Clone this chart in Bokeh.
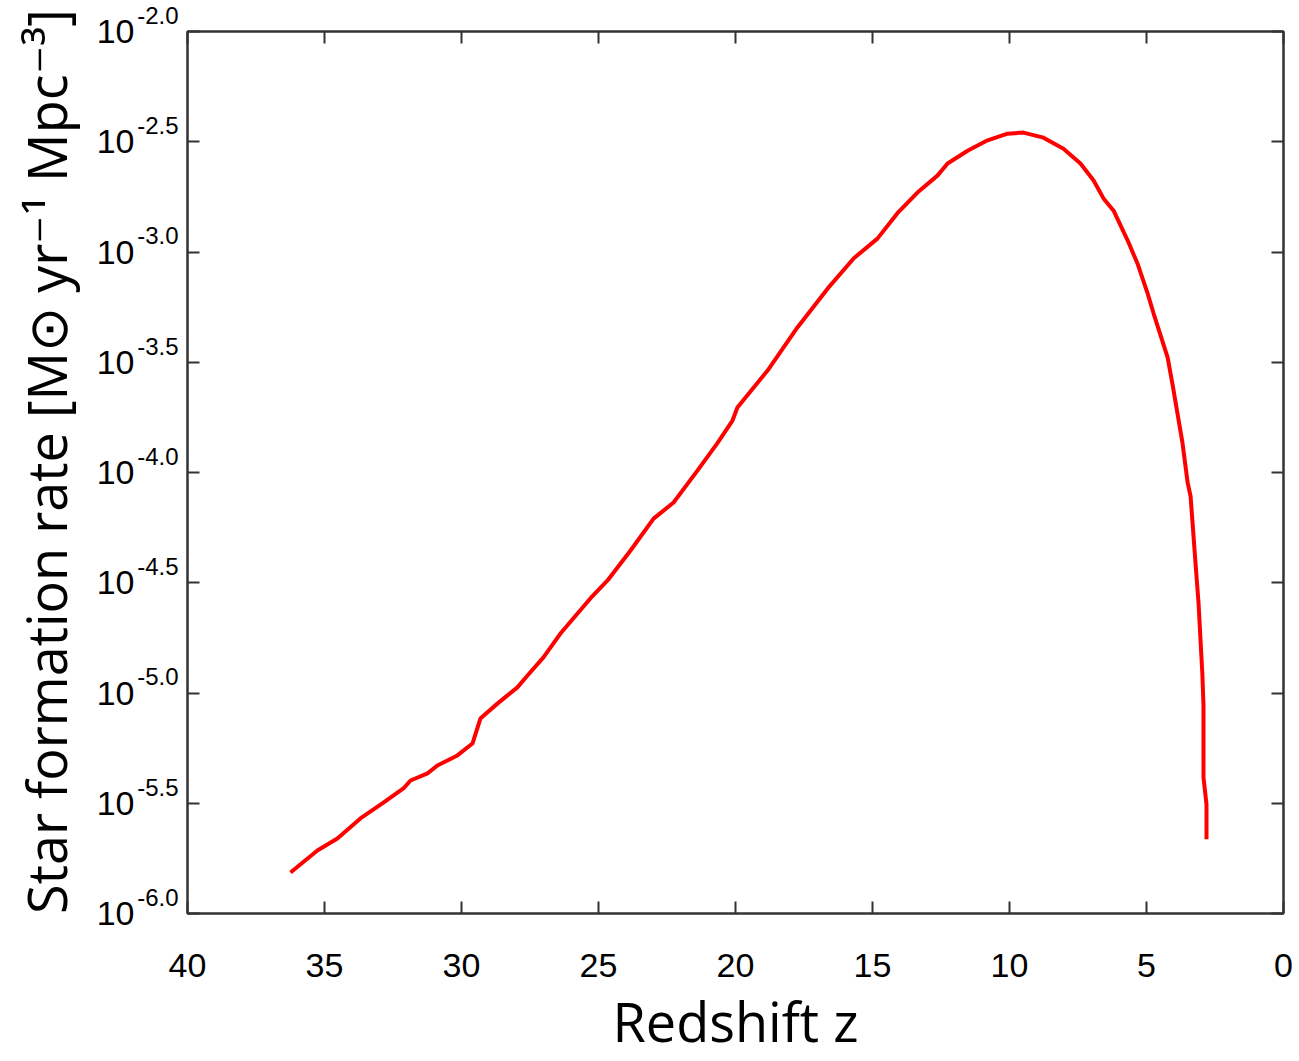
from bokeh.plotting import figure
from bokeh.models import (FixedTicker, LogAxis, LinearAxis, CustomJSTickFormatter, Range1d)
from bokeh.embed import file_html
from bokeh.resources import INLINE

# ---- data ----
redshift = [36.24, 35.26, 34.53, 33.69, 32.85, 32.12, 31.86, 31.24, 30.88, 30.15,
            29.60, 29.31, 28.69, 27.96, 27.59, 27.01, 26.39, 25.29, 24.67, 23.83,
            22.99, 22.26, 21.39, 20.66, 20.11, 19.93, 18.83, 17.74, 16.64, 15.69,
            14.82, 14.09, 13.36, 12.63, 12.26, 11.53, 10.80, 10.07, 9.49, 8.76,
            8.03, 7.41, 6.93, 6.57, 6.20, 5.69, 5.33, 4.96, 4.74, 4.23,
            4.05, 3.69, 3.50, 3.39, 3.21, 3.10, 2.96, 2.92, 2.92, 2.81, 2.81]
sfr = [1.535e-6, 1.93e-6, 2.19e-6, 2.70e-6, 3.18e-6, 3.69e-6, 4.01e-6, 4.32e-6, 4.69e-6, 5.21e-6,
       5.90e-6, 7.66e-6, 8.95e-6, 1.06e-5, 1.20e-5, 1.45e-5, 1.86e-5, 2.69e-5, 3.24e-5, 4.43e-5,
       6.18e-5, 7.31e-5, 1.02e-4, 1.36e-4, 1.72e-4, 1.97e-4, 2.90e-4, 4.55e-4, 6.82e-4, 9.35e-4,
       1.15e-3, 1.50e-3, 1.86e-3, 2.22e-3, 2.52e-3, 2.88e-3, 3.21e-3, 3.44e-3, 3.48e-3, 3.30e-3,
       2.94e-3, 2.52e-3, 2.11e-3, 1.75e-3, 1.54e-3, 1.13e-3, 8.87e-4, 6.49e-4, 5.26e-4, 3.33e-4,
       2.51e-4, 1.37e-4, 9.02e-5, 7.78e-5, 3.86e-5, 2.55e-5, 1.21e-5, 8.77e-6, 4.14e-6, 3.12e-6, 2.17e-6]

x_ticks = [0, 5, 10, 15, 20, 25, 30, 35, 40]
y_tick_exponents = [-6.0, -5.5, -5.0, -4.5, -4.0, -3.5, -3.0, -2.5, -2.0]
y_tick_labels = ["-6.0", "-5.5", "-5.0", "-4.5", "-4.0", "-3.5", "-3.0", "-2.5", "-2.0"]
y_tick_base = "10"
x_title = "Redshift z"
y_title = "Star formation rate [M\u2299 yr\u207b\u00b9 Mpc\u207b\u00b3]"

AX = "#333333"
TICK_FONT = "Liberation Sans"
TITLE_FONT = "Open Sans"

y_tick_values = [10 ** e for e in y_tick_exponents]

p = figure(width=1298, height=1060,
           x_range=Range1d(40, 0), y_range=Range1d(1e-6, 1e-2),
           y_axis_type="log", output_backend="svg", toolbar_location=None,
           min_border_left=187, min_border_right=15, min_border_top=31,
           min_border_bottom=147)
p.background_fill_color = "white"
p.border_fill_color = "white"
p.outline_line_color = AX
p.outline_line_width = 2
p.xgrid.visible = False
p.ygrid.visible = False

p.line(redshift, sfr, line_color="#ff0000", line_width=4)


def style_axis(ax):
    ax.axis_line_color = AX
    ax.axis_line_width = 2
    ax.major_tick_line_color = AX
    ax.major_tick_line_width = 2
    ax.major_tick_in = 12
    ax.major_tick_out = 0
    ax.minor_tick_in = 0
    ax.minor_tick_out = 0
    ax.minor_tick_line_color = None


xticker = FixedTicker(ticks=x_ticks, minor_ticks=[])
yticker = FixedTicker(ticks=y_tick_values, minor_ticks=[])

xa = p.xaxis[0]
style_axis(xa)
xa.ticker = xticker
xa.major_label_text_font = TICK_FONT
xa.major_label_text_font_size = "34px"
xa.major_label_text_color = "black"
xa.major_label_standoff = 40
xa.axis_label = x_title
xa.axis_label_text_font = TITLE_FONT
xa.axis_label_text_font_size = "54px"
xa.axis_label_text_font_style = "normal"
xa.axis_label_text_color = "black"
xa.axis_label_standoff = 4

# inner left axis: carries the ticks and the exponent (superscript) part
exp_formatter = CustomJSTickFormatter(
    args=dict(exps=y_tick_exponents, labels=y_tick_labels),
    code="""
const e = Math.log10(tick);
let best = 0;
for (let i = 0; i < exps.length; i++) {
  if (Math.abs(exps[i] - e) < Math.abs(exps[best] - e)) best = i;
}
return labels[best] + "\\n\\u00a0";
""")
ya = p.yaxis[0]
style_axis(ya)
ya.ticker = yticker
ya.formatter = exp_formatter
ya.major_label_text_font = TICK_FONT
ya.major_label_text_font_size = "24px"
ya.major_label_text_color = "black"
ya.major_label_standoff = 9

# outer left axis: the base "10" and the axis title
base_axis = LogAxis(ticker=yticker,
                    formatter=CustomJSTickFormatter(args=dict(base=y_tick_base),
                                                    code="return base"))
base_axis.axis_line_color = None
base_axis.major_tick_line_color = None
base_axis.minor_tick_line_color = None
base_axis.major_tick_in = 0
base_axis.major_tick_out = 0
base_axis.minor_tick_in = 0
base_axis.minor_tick_out = 0
base_axis.major_label_text_font = TICK_FONT
base_axis.major_label_text_font_size = "34px"
base_axis.major_label_text_color = "black"
base_axis.major_label_standoff = 0
base_axis.axis_label = y_title
base_axis.axis_label_text_font = TITLE_FONT
base_axis.axis_label_text_font_size = "54px"
base_axis.axis_label_text_font_style = "normal"
base_axis.axis_label_text_color = "black"
base_axis.axis_label_standoff = 11
p.add_layout(base_axis, "left")

top = LinearAxis(ticker=xticker, formatter=CustomJSTickFormatter(code="return ''"),
                 major_label_standoff=0)
style_axis(top)
p.add_layout(top, "above")

right = LogAxis(ticker=yticker, formatter=CustomJSTickFormatter(code="return ''"),
                major_label_standoff=0)
style_axis(right)
p.add_layout(right, "right")

open("out.html", "w").write(file_html(p, INLINE))
